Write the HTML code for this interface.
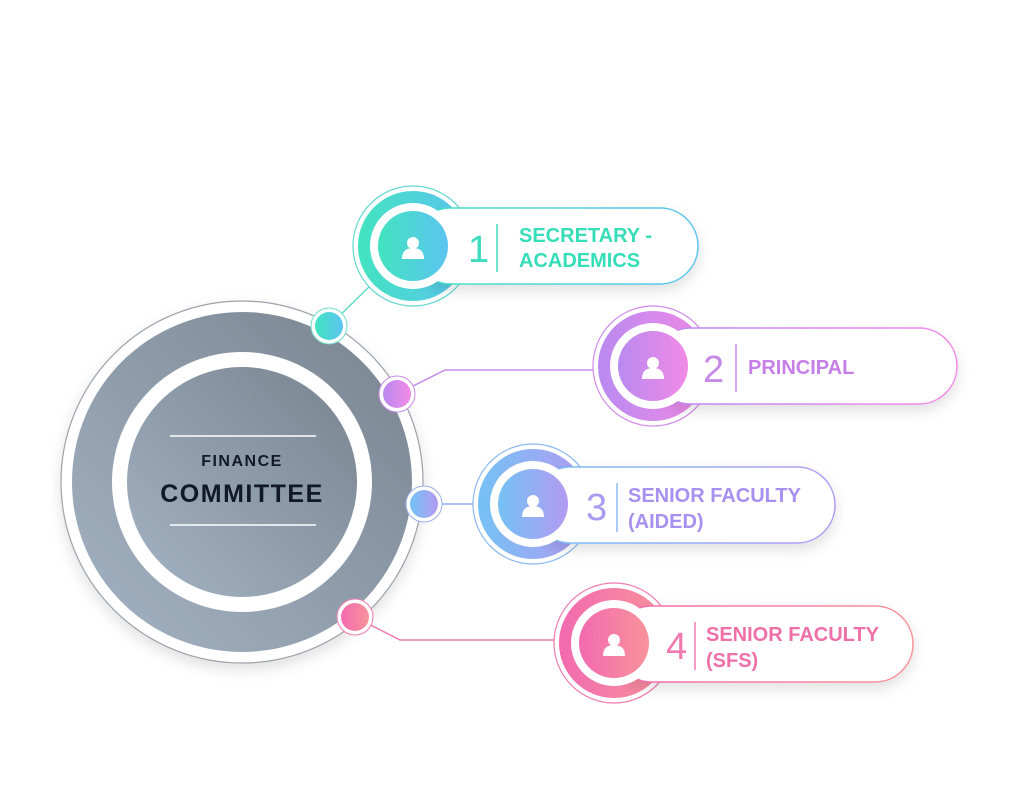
<!DOCTYPE html>
<html><head><meta charset="utf-8"><style>
html,body{margin:0;padding:0;background:#fff;}
svg{display:block;}
text{font-family:"Liberation Sans",sans-serif;}
</style></head><body>
<svg width="1024" height="801" viewBox="0 0 1024 801" xmlns="http://www.w3.org/2000/svg">
<defs>
<linearGradient id="gray" x1="1" y1="0" x2="0" y2="1"><stop offset="0" stop-color="#78848f"/><stop offset="1" stop-color="#a4b3c4"/></linearGradient>
<linearGradient id="g1" x1="0" y1="0" x2="1" y2="0"><stop offset="0" stop-color="#42e3c0"/><stop offset="1" stop-color="#5cc4f0"/></linearGradient>
<linearGradient id="g2" x1="0" y1="0" x2="1" y2="0"><stop offset="0" stop-color="#b98af0"/><stop offset="1" stop-color="#f28ae6"/></linearGradient>
<linearGradient id="g3" x1="0" y1="0" x2="1" y2="0"><stop offset="0" stop-color="#74c2f5"/><stop offset="1" stop-color="#b39af2"/></linearGradient>
<linearGradient id="g4" x1="0" y1="0" x2="1" y2="0"><stop offset="0" stop-color="#f26ab0"/><stop offset="1" stop-color="#f8939a"/></linearGradient>
<filter id="sh" x="-20%" y="-20%" width="140%" height="150%"><feDropShadow dx="0" dy="6" stdDeviation="7" flood-color="#000" flood-opacity="0.12"/></filter>
<g id="person"><circle cx="0" cy="-6" r="6" fill="#fff"/><path d="M-11,10 Q-11,-1 0,-1 Q11,-1 11,10 Z" fill="#fff"/></g>
</defs>

<circle cx="242" cy="482" r="181" fill="#fff" stroke="#9aa3ab" stroke-width="1.2" filter="url(#sh)"/>
<circle cx="242" cy="482" r="170" fill="url(#gray)"/>
<circle cx="242" cy="482" r="130" fill="#fff"/>
<circle cx="242" cy="482" r="115" fill="url(#gray)"/>
<line x1="170" y1="436" x2="316" y2="436" stroke="#fff" stroke-width="1.5"/>
<line x1="170" y1="525" x2="316" y2="525" stroke="#fff" stroke-width="1.5"/>
<text x="242" y="466" text-anchor="middle" font-size="16" font-weight="bold" fill="#111827" letter-spacing="1.5">FINANCE</text>
<text x="242" y="502" text-anchor="middle" font-size="25" font-weight="bold" fill="#111827" letter-spacing="1.5">COMMITTEE</text>

<line x1="329" y1="326" x2="372" y2="284" stroke="#5fdcc8" stroke-width="1.5"/>
<polyline points="397,394 445,370 598,370" fill="none" stroke="#c88ae8" stroke-width="1.5"/>
<line x1="424" y1="504" x2="476" y2="504" stroke="#8eb0f2" stroke-width="1.5"/>
<polyline points="355,617 400,640 556,640" fill="none" stroke="#f07ab0" stroke-width="1.5"/>

<circle cx="329" cy="326" r="18" fill="#fff" stroke="#6fdcc8" stroke-width="1"/><circle cx="329" cy="326" r="14" fill="url(#g1)"/>
<circle cx="397" cy="394" r="18" fill="#fff" stroke="#c88ae8" stroke-width="1"/><circle cx="397" cy="394" r="14" fill="url(#g2)"/>
<circle cx="424" cy="504" r="18" fill="#fff" stroke="#9ab0f0" stroke-width="1"/><circle cx="424" cy="504" r="14" fill="url(#g3)"/>
<circle cx="355" cy="617" r="18" fill="#fff" stroke="#f07ab0" stroke-width="1"/><circle cx="355" cy="617" r="14" fill="url(#g4)"/>

<g>
<circle cx="413" cy="246" r="60" fill="#fff" stroke="#62d8d0" stroke-width="1.2"/>
<circle cx="413" cy="246" r="55" fill="url(#g1)"/>
<rect x="413" y="208" width="285" height="76" rx="38" fill="#fff" stroke="url(#g1)" stroke-width="1.5" filter="url(#sh)"/>
<circle cx="413" cy="246" r="43" fill="#fff"/>
<circle cx="413" cy="246" r="35" fill="url(#g1)"/>
<use href="#person" x="413" y="249"/>
<text x="468" y="262" font-size="38" fill="#3ddcc0">1</text>
<line x1="497" y1="224" x2="497" y2="272" stroke="#3ddcc0" stroke-width="1.5"/>
<text x="519" y="242" font-size="20" font-weight="bold" fill="#35ddb8">SECRETARY -</text>
<text x="519" y="267" font-size="20" font-weight="bold" fill="#35ddb8">ACADEMICS</text>
</g>

<g>
<circle cx="653" cy="366" r="60" fill="#fff" stroke="#d08ae8" stroke-width="1.2"/>
<circle cx="653" cy="366" r="55" fill="url(#g2)"/>
<rect x="653" y="328" width="304" height="76" rx="38" fill="#fff" stroke="url(#g2)" stroke-width="1.5" filter="url(#sh)"/>
<circle cx="653" cy="366" r="43" fill="#fff"/>
<circle cx="653" cy="366" r="35" fill="url(#g2)"/>
<use href="#person" x="653" y="369"/>
<text x="703" y="382" font-size="38" fill="#c88ae8">2</text>
<line x1="736" y1="344" x2="736" y2="392" stroke="#c88ae8" stroke-width="1.5"/>
<text x="748" y="374" font-size="20" font-weight="bold" fill="#c57fe6">PRINCIPAL</text>
</g>

<g>
<circle cx="533" cy="504" r="60" fill="#fff" stroke="#8ab8f2" stroke-width="1.2"/>
<circle cx="533" cy="504" r="55" fill="url(#g3)"/>
<rect x="533" y="467" width="302" height="76" rx="38" fill="#fff" stroke="url(#g3)" stroke-width="1.5" filter="url(#sh)"/>
<circle cx="533" cy="504" r="43" fill="#fff"/>
<circle cx="533" cy="504" r="35" fill="url(#g3)"/>
<use href="#person" x="533" y="507"/>
<text x="586" y="520" font-size="38" fill="#a99cf0">3</text>
<line x1="617" y1="483" x2="617" y2="532" stroke="#8ab8f2" stroke-width="1.5"/>
<text x="628" y="502" font-size="20" font-weight="bold" fill="#a890f0">SENIOR FACULTY</text>
<text x="628" y="528" font-size="20" font-weight="bold" fill="#a890f0">(AIDED)</text>
</g>

<g>
<circle cx="614" cy="643" r="60" fill="#fff" stroke="#f07ab0" stroke-width="1.2"/>
<circle cx="614" cy="643" r="55" fill="url(#g4)"/>
<rect x="614" y="606" width="299" height="76" rx="38" fill="#fff" stroke="url(#g4)" stroke-width="1.5" filter="url(#sh)"/>
<circle cx="614" cy="643" r="43" fill="#fff"/>
<circle cx="614" cy="643" r="35" fill="url(#g4)"/>
<use href="#person" x="614" y="646"/>
<text x="666" y="659" font-size="38" fill="#f07ab0">4</text>
<line x1="695" y1="622" x2="695" y2="670" stroke="#f07ab0" stroke-width="1.5"/>
<text x="706" y="641" font-size="20" font-weight="bold" fill="#ef6fa8">SENIOR FACULTY</text>
<text x="706" y="667" font-size="20" font-weight="bold" fill="#ef6fa8">(SFS)</text>
</g>
</svg>
</body></html>
